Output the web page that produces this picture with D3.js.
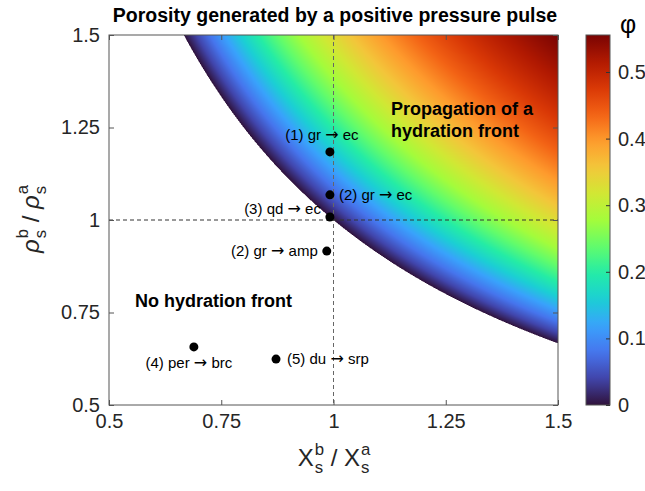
<!DOCTYPE html>
<html>
<head>
<meta charset="utf-8">
<script src="https://cdn.jsdelivr.net/npm/d3@7"></script>
<style>
  body { margin: 0; background: #fff; }
  text { font-family: "Liberation Sans", Arial, Helvetica, sans-serif; }
</style>
</head>
<body>
<div id="chart"></div>
<script>
// ---- data ----
const xTicks = [0.5, 0.75, 1, 1.25, 1.5];
const yTicks = [0.5, 0.75, 1, 1.25, 1.5];
const cbTicks = [0, 0.1, 0.2, 0.3, 0.4, 0.5];
const caseFrom = ["(1) gr", "(2) gr", "(3) qd", "(2) gr", "(4) per", "(5) du"];
const caseTo = ["ec", "ec", "ec", "amp", "brc", "srp"];
const caseX = [0.992, 0.992, 0.992, 0.985, 0.689, 0.872];
const caseY = [1.184, 1.068, 1.008, 0.916, 0.657, 0.624];
const phiMax = 1 - 1 / (1.5 * 1.5);
// turbo colormap stops
const turboStops = ["#30123b", "#4145ab", "#4675ed", "#39a2fc", "#1bcfd4", "#24eca6", "#61fc6c", "#a4fc3b",
                    "#d1e834", "#f3c63a", "#fe9b2d", "#f36315", "#d93806", "#b11901", "#7a0403"];

// porosity produced when the pulse propagates (zero below X*rho = 1)
function porosity(xr, yr) { return 1 - 1 / (xr * yr); }

const W = 645, H = 491;
const pL = 109, pR = 558, pT = 35, pB = 405;
const ink = "#262626";

const svg = d3.select("#chart").append("svg")
    .attr("width", W).attr("height", H);

const x = d3.scaleLinear().domain([0.5, 1.5]).range([pL, pR]);
const y = d3.scaleLinear().domain([0.5, 1.5]).range([pB, pT]);
const turbo = d3.piecewise(d3.interpolateRgb, turboStops);
const color = d3.scaleSequential(turbo).domain([0, phiMax]);

// ---- heatmap via canvas ----
const ss = 2;
const cw = (pR - pL) * ss, ch = (pB - pT) * ss;
const canvas = document.createElement("canvas");
canvas.width = cw; canvas.height = ch;
const ctx = canvas.getContext("2d");
const img = ctx.createImageData(cw, ch);
for (let j = 0; j < ch; j++) {
  const yv = y.invert(pT + (j + 0.5) / ss);
  for (let i = 0; i < cw; i++) {
    const xv = x.invert(pL + (i + 0.5) / ss);
    const p = porosity(xv, yv);
    const k = (j * cw + i) * 4;
    if (p < 0) { img.data[k + 3] = 0; continue; }
    const c = d3.rgb(color(Math.min(p, phiMax)));
    img.data[k] = c.r; img.data[k + 1] = c.g; img.data[k + 2] = c.b; img.data[k + 3] = 255;
  }
}
ctx.putImageData(img, 0, 0);
svg.append("image")
    .attr("x", pL).attr("y", pT)
    .attr("width", pR - pL).attr("height", pB - pT)
    .attr("preserveAspectRatio", "none")
    .attr("href", canvas.toDataURL());

// ---- dashed reference lines ----
svg.append("line")
    .attr("x1", x(1)).attr("x2", x(1)).attr("y1", pT).attr("y2", pB)
    .attr("stroke", "#666").attr("stroke-width", 1).attr("stroke-dasharray", "4,3");
svg.append("line")
    .attr("x1", pL).attr("x2", pR).attr("y1", y(1)).attr("y2", y(1))
    .attr("stroke", "#333").attr("stroke-width", 1).attr("stroke-dasharray", "4,3");

// ---- axes (MATLAB style, inward ticks on all sides) ----
const axisColor = "#555";
function styleAxis(g) {
  g.select(".domain").remove();
  g.selectAll(".tick line").attr("stroke", axisColor);
  g.selectAll(".tick text").style("font-size", "20px").style("fill", ink);
}
svg.append("g").attr("transform", `translate(0,${pB})`)
   .call(d3.axisBottom(x).tickValues(xTicks).tickFormat(d3.format("")).tickSizeInner(-5).tickSizeOuter(0).tickPadding(9))
   .call(styleAxis);
svg.append("g").attr("transform", `translate(0,${pT})`)
   .call(d3.axisTop(x).tickValues(xTicks).tickFormat("").tickSizeInner(-5).tickSizeOuter(0))
   .call(styleAxis);
svg.append("g").attr("transform", `translate(${pL},0)`)
   .call(d3.axisLeft(y).tickValues(yTicks).tickFormat(d3.format("")).tickSizeInner(-5).tickSizeOuter(0).tickPadding(9))
   .call(styleAxis);
svg.append("g").attr("transform", `translate(${pR},0)`)
   .call(d3.axisRight(y).tickValues(yTicks).tickFormat("").tickSizeInner(-5).tickSizeOuter(0))
   .call(styleAxis);
svg.append("rect")
    .attr("x", pL).attr("y", pT).attr("width", pR - pL).attr("height", pB - pT)
    .attr("fill", "none").attr("stroke", axisColor).attr("stroke-width", 1);

// ---- case points ----
const cases = caseFrom.map((from, i) => ({ from, to: caseTo[i], xv: caseX[i], yv: caseY[i] }));
svg.selectAll(".pt").data(cases).enter().append("circle")
   .attr("class", "pt")
   .attr("cx", d => x(d.xv)).attr("cy", d => y(d.yv)).attr("r", 4.5)
   .attr("fill", "#000");

// label placement per point: [dx, dy, anchor]
const place = [[-8, -12, "middle"], [9, 5, "start"], [-9, -3, "end"], [-9, 5, "end"], [-5, 21, "middle"], [11, 5, "start"]];
const lbl = svg.selectAll(".lbl").data(cases).enter().append("text")
   .attr("class", "lbl")
   .attr("x", (d, i) => x(d.xv) + place[i][0])
   .attr("y", (d, i) => y(d.yv) + place[i][1])
   .attr("text-anchor", (d, i) => place[i][2])
   .style("font-size", "15px").style("fill", "#000");
lbl.append("tspan").text(d => d.from + " ");
lbl.append("tspan").style("font-family", "'DejaVu Sans'").style("font-size", "16px").text("\u2192");
lbl.append("tspan").text(d => " " + d.to);

// ---- region annotations ----
function boldNote(xp, yp, s) {
  svg.append("text").attr("x", xp).attr("y", yp)
     .style("font-size", "18px").style("font-weight", "bold").style("fill", "#000")
     .text(s);
}
boldNote(391, 115, "Propagation of a");
boldNote(391, 137, "hydration front");
boldNote(135, 307, "No hydration front");

// ---- title ----
svg.append("text").attr("x", 335).attr("y", 22).attr("text-anchor", "middle")
   .style("font-size", "19.5px").style("font-weight", "bold").style("fill", "#000")
   .text("Porosity generated by a positive pressure pulse");

// ---- axis labels with stacked sub/superscripts ----
function stackedLabel(g, parts, size, italic) {
  // parts: [[base, sup, sub], " / ", ...]
  let cx = 0;
  parts.forEach(p => {
    if (typeof p === "string") {
      const t = g.append("text").attr("x", cx).attr("y", 0).style("font-size", size + "px").style("fill", ink)
                 .attr("xml:space", "preserve").text(p);
      cx += t.node().getComputedTextLength();
    } else {
      const b = g.append("text").attr("x", cx).attr("y", 0).style("font-size", size + "px").style("fill", ink)
                 .style("font-style", italic ? "italic" : "normal").text(p[0]);
      cx += b.node().getComputedTextLength() + 1;
      const s1 = g.append("text").attr("x", cx).attr("y", -size * 0.45).style("font-size", (size * 0.7) + "px").style("fill", ink).text(p[1]);
      const s2 = g.append("text").attr("x", cx).attr("y", size * 0.3).style("font-size", (size * 0.7) + "px").style("fill", ink).text(p[2]);
      cx += Math.max(s1.node().getComputedTextLength(), s2.node().getComputedTextLength());
    }
  });
  return cx;
}
const xl = svg.append("g");
const xw = stackedLabel(xl, [["X", "b", "s"], " / ", ["X", "a", "s"]], 24, false);
xl.attr("transform", `translate(${334 - xw / 2},466)`);

const yl = svg.append("g");
const yw = stackedLabel(yl, [["\u03C1", "b", "s"], " / ", ["\u03C1", "a", "s"]], 24, true);
yl.attr("transform", `translate(39,${219 + yw / 2}) rotate(-90)`);

// ---- colorbar ----
const cbLeft = 586, cbRight = 610;
const cy = d3.scaleLinear().domain([0, phiMax]).range([pB, pT]);
const defs = svg.append("defs");
const grad = defs.append("linearGradient").attr("id", "cbgrad")
    .attr("x1", 0).attr("y1", 1).attr("x2", 0).attr("y2", 0);
d3.range(0, 1.0001, 1 / 40).forEach(t => {
  grad.append("stop").attr("offset", t).attr("stop-color", turbo(t));
});
svg.append("rect").attr("x", cbLeft).attr("y", pT)
   .attr("width", cbRight - cbLeft).attr("height", pB - pT)
   .attr("fill", "url(#cbgrad)").attr("stroke", axisColor).attr("stroke-width", 1);
const cbAxis = svg.append("g").attr("transform", `translate(${cbRight},0)`)
   .call(d3.axisRight(cy).tickValues(cbTicks).tickFormat(d3.format("")).tickSizeInner(-4).tickSizeOuter(0).tickPadding(8))
   .call(styleAxis);
cbAxis.selectAll(".tick line").attr("stroke", "#333");
svg.append("text").attr("x", 620).attr("y", 33)
   .style("font-size", "25px").style("fill", "#000")
   .text("\u03C6");
</script>
</body>
</html>
